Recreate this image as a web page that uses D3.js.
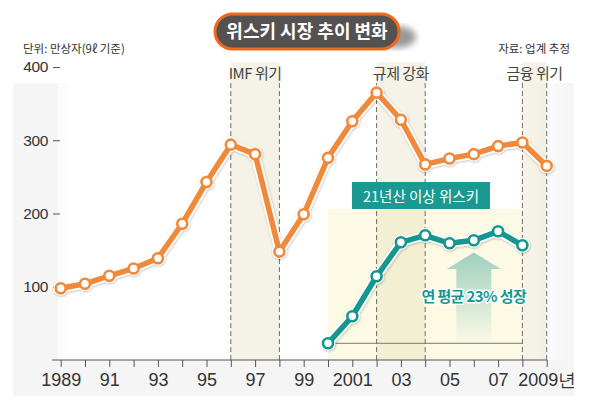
<!DOCTYPE html>
<html><head><meta charset="utf-8">
<script src="https://cdn.jsdelivr.net/npm/d3@7/dist/d3.min.js"></script>
<style>body{margin:0;background:#fff}svg{display:block}</style>
</head><body><svg id="c" width="590" height="404"></svg>
<script>
// ---- data ----
const years = [1989,1990,1991,1992,1993,1994,1995,1996,1997,1998,1999,2000,2001,2002,2003,2004,2005,2006,2007,2008,2009];
const marketValues = [98,104,115,125,139,186,243,294,281,148,199,276,326,365,328,267,275,281,292,297,265];
const premiumYears = [2000,2001,2002,2003,2004,2005,2006,2007,2008];
const premiumIndex = [0,27,67,101,108,100,103,112,98];
const yTicks = [100,200,300,400];
const xTickLabels = ["1989","","91","","93","","95","","97","","99","","2001","","03","","05","","07","","2009년"];
const eventLabels = ["IMF 위기","규제 강화","금융 위기"];
const eventStart = [1996,2002,2008];
const eventEnd = [1998,2004,2009];
const titleText = "위스키 시장 추이 변화";
const unitText = "단위: 만상자(9ℓ 기준)";
const sourceText = "자료: 업계 추정";
const insetTitle = "21년산 이상 위스키";
const growthText = "연 평균 23% 성장";

// ---- setup ----
const svg = d3.select("#c");
const KR = "'Noto Sans CJK KR','Noto Sans',sans-serif";
const NUM = "'Liberation Sans Narrow','Liberation Sans',Arial,sans-serif";
const ORANGE = "#f0893a", TEAL = "#15978f";

const x = d3.scaleLinear().domain([1989, 2009]).range([60.7, 546.7]);
const y = d3.scaleLinear().domain([0, 400]).range([360, 67]);
const yT = d3.scaleLinear().domain([0, 100]).range([343.3, 243.3]);

const defs = svg.append("defs");
const fade = defs.append("linearGradient").attr("id","fade").attr("x1","0").attr("x2","1");
fade.append("stop").attr("offset","0").attr("stop-color","#fff").attr("stop-opacity",0.6);
fade.append("stop").attr("offset","0.03").attr("stop-color","#fff").attr("stop-opacity",1);
fade.append("stop").attr("offset","0.93").attr("stop-color","#fff").attr("stop-opacity",1);
fade.append("stop").attr("offset","1").attr("stop-color","#fff").attr("stop-opacity",0);
const arrowG = defs.append("linearGradient").attr("id","arrowG").attr("x1","0").attr("x2","0").attr("y1","0").attr("y2","1");
arrowG.append("stop").attr("offset","0").attr("stop-color","#9fcfbf");
arrowG.append("stop").attr("offset","1").attr("stop-color","#fbf9e4");
const sh = defs.append("filter").attr("id","sh").attr("x","-20%").attr("y","-20%").attr("width","140%").attr("height","140%");
sh.append("feDropShadow").attr("dx",0.5).attr("dy",1).attr("stdDeviation",1.2).attr("flood-color","#000").attr("flood-opacity",0.25);
const blur = defs.append("filter").attr("id","blur");
blur.append("feGaussianBlur").attr("stdDeviation",3);

// background panel
svg.append("rect").attr("x",13).attr("y",83).attr("width",561).attr("height",313).attr("fill","#f5f5f5");
svg.append("rect").attr("x",58).attr("y",83).attr("width",512).attr("height",277).attr("fill","url(#fade)");

// title
svg.append("ellipse").attr("cx",396).attr("cy",37).attr("rx",20).attr("ry",11).attr("fill","#9a9a9a").attr("filter","url(#blur)");
svg.append("rect").attr("x",215).attr("y",14).attr("width",184).attr("height",35).attr("rx",17.5)
  .attr("fill","#545150").attr("stroke","#ee6a1b").attr("stroke-width",3);
svg.append("text").attr("x",307).attr("y",38).attr("text-anchor","middle")
  .attr("font-family",KR).attr("font-weight","bold").attr("font-size",18).attr("fill","#fff").text(titleText);

svg.append("text").attr("x",23).attr("y",53).attr("font-family",KR).attr("font-size",11.5).attr("fill","#333").text(unitText);
svg.append("text").attr("x",570).attr("y",53).attr("text-anchor","end").attr("font-family",KR).attr("font-size",11.5).attr("fill","#333").text(sourceText);

// inset box
svg.append("rect").attr("x",x(premiumYears[0])).attr("y",209)
  .attr("width",x(premiumYears[premiumYears.length-1]) - x(premiumYears[0])).attr("height",151)
  .attr("fill","#fcfae5");

// event bands
const ev = eventLabels.map((l,i)=>({label:l, a:eventStart[i], b:eventEnd[i]}));
svg.selectAll(".band").data(ev).join("rect")
  .attr("x",d=>x(d.a)).attr("y",62).attr("width",d=>x(d.b)-x(d.a)).attr("height",298)
  .attr("fill","rgba(200,190,130,0.19)");
svg.selectAll(".dl").data(ev.flatMap(d=>[d.a,d.b])).join("line")
  .attr("x1",d=>x(d)).attr("x2",d=>x(d)).attr("y1",83).attr("y2",360)
  .attr("stroke","#6f6f6f").attr("stroke-width",1).attr("stroke-dasharray","5,3");
svg.selectAll(".evl").data(ev).join("text")
  .attr("x",d=>(x(d.a)+x(d.b))/2).attr("y",79).attr("text-anchor","middle")
  .attr("font-family",KR).attr("font-size",15).attr("letter-spacing",-0.5).attr("fill","#444").text(d=>d.label);

// axes
const xAxis = d3.axisBottom(x).tickValues(years).tickSize(7).tickPadding(6)
  .tickFormat((d,i)=>xTickLabels[i]);
const gx = svg.append("g").attr("transform","translate(0,360)").call(xAxis);
gx.select(".domain").remove();
gx.selectAll("line").attr("stroke","#555");
gx.selectAll("text").attr("font-family",NUM).attr("font-size",18).attr("fill","#333");
svg.append("line").attr("x1",x(1989)-8.5).attr("x2",x(2009)).attr("y1",360).attr("y2",360).attr("stroke","#555");

const yAxis = d3.axisLeft(y).tickValues(yTicks).tickSize(7).tickPadding(5);
const gy = svg.append("g").attr("transform","translate(60,0)").call(yAxis);
gy.select(".domain").remove();
gy.selectAll("line").attr("stroke","#555");
gy.selectAll("text").attr("font-family","'Liberation Sans',Arial,sans-serif").attr("font-size",15.5).attr("letter-spacing",-0.4).attr("fill","#333");

// orange series
const mData = years.map((yr,i)=>({yr, v:marketValues[i]}));
const line = d3.line().x(d=>x(d.yr)).y(d=>y(d.v));
const go = svg.append("g").attr("filter","url(#sh)");
go.append("path").datum(mData).attr("d",line).attr("fill","none").attr("stroke","#fff").attr("stroke-width",9).attr("stroke-linejoin","round");
go.selectAll(".h").data(mData).join("circle").attr("cx",d=>x(d.yr)).attr("cy",d=>y(d.v)).attr("r",7.3).attr("fill","#fff");
svg.append("path").datum(mData).attr("d",line).attr("fill","none").attr("stroke",ORANGE).attr("stroke-width",5.5).attr("stroke-linejoin","round");
svg.selectAll(".mp").data(mData).join("circle").attr("cx",d=>x(d.yr)).attr("cy",d=>y(d.v)).attr("r",5)
  .attr("fill","#fff").attr("stroke",ORANGE).attr("stroke-width",2.6);

// inset title box
svg.append("rect").attr("x",352).attr("y",182).attr("width",138).attr("height",27).attr("fill","#1a9992");
svg.append("text").attr("x",421).attr("y",202).attr("text-anchor","middle").attr("font-family",KR)
  .attr("font-size",14.5).attr("fill","#fff").text(insetTitle);

// baseline
svg.append("line").attr("x1",x(premiumYears[0])).attr("x2",x(premiumYears[premiumYears.length-1]))
  .attr("y1",yT(0)).attr("y2",yT(0)).attr("stroke","#777").attr("stroke-width",1);

// arrow
const ax = x(2006);
svg.append("path").attr("d",`M${ax-17.5},342 L${ax-17.5},269 L${ax-27},269 L${ax},252.5 L${ax+27},269 L${ax+17.5},269 L${ax+17.5},342 Z`)
  .attr("fill","url(#arrowG)");

// teal series
const pData = premiumYears.map((yr,i)=>({yr, v:premiumIndex[i]}));
const lineT = d3.line().x(d=>x(d.yr)).y(d=>yT(d.v));
const gt = svg.append("g").attr("filter","url(#sh)");
gt.append("path").datum(pData).attr("d",lineT).attr("fill","none").attr("stroke","#fff").attr("stroke-width",9).attr("stroke-linejoin","round");
gt.selectAll(".h").data(pData).join("circle").attr("cx",d=>x(d.yr)).attr("cy",d=>yT(d.v)).attr("r",7.3).attr("fill","#fff");
svg.append("path").datum(pData).attr("d",lineT).attr("fill","none").attr("stroke",TEAL).attr("stroke-width",5.5).attr("stroke-linejoin","round");
svg.selectAll(".tp").data(pData).join("circle").attr("cx",d=>x(d.yr)).attr("cy",d=>yT(d.v)).attr("r",5)
  .attr("fill","#fff").attr("stroke",TEAL).attr("stroke-width",2.6);

// growth text
svg.append("text").attr("x",ax).attr("y",302).attr("text-anchor","middle").attr("font-family",KR)
  .attr("font-size",15).attr("font-weight","bold").attr("letter-spacing",-0.6)
  .attr("fill",TEAL).attr("stroke","#fff").attr("stroke-width",3).attr("paint-order","stroke")
  .attr("stroke-linejoin","round").text(growthText);
</script></body></html>
